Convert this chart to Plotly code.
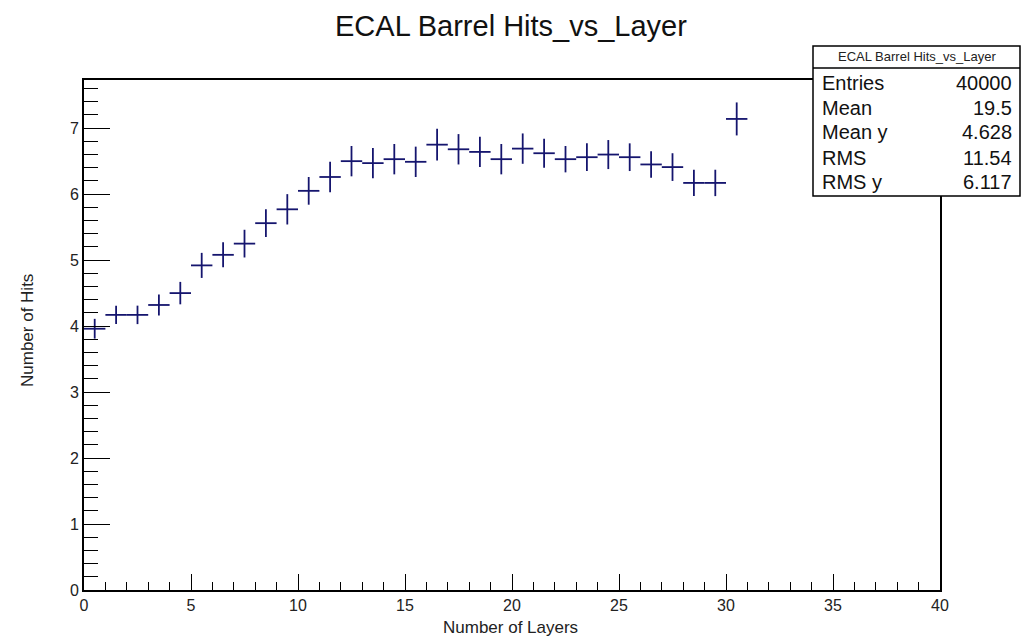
import plotly.graph_objects as go

# ---- data ----
layer = [0.5, 1.5, 2.5, 3.5, 4.5, 5.5, 6.5, 7.5, 8.5, 9.5, 10.5, 11.5, 12.5, 13.5, 14.5,
         15.5, 16.5, 17.5, 18.5, 19.5, 20.5, 21.5, 22.5, 23.5, 24.5, 25.5, 26.5, 27.5,
         28.5, 29.5, 30.5]
hits = [3.96, 4.17, 4.17, 4.32, 4.50, 4.92, 5.08, 5.25, 5.56, 5.77, 6.05, 6.26, 6.50,
        6.47, 6.53, 6.49, 6.75, 6.68, 6.64, 6.53, 6.69, 6.62, 6.53, 6.56, 6.60, 6.56,
        6.45, 6.41, 6.17, 6.17, 7.14]
hits_err = [0.15, 0.14, 0.14, 0.16, 0.17, 0.19, 0.19, 0.21, 0.21, 0.23, 0.21, 0.23, 0.23,
            0.23, 0.23, 0.23, 0.24, 0.23, 0.23, 0.23, 0.23, 0.22, 0.20, 0.21, 0.22, 0.21,
            0.20, 0.21, 0.20, 0.20, 0.25]
bin_half = [0.5] * len(layer)

title = "ECAL Barrel Hits_vs_Layer"
x_title = "Number of Layers"
y_title = "Number of Hits"
x_ticks = [0, 5, 10, 15, 20, 25, 30, 35, 40]
y_ticks = [0, 1, 2, 3, 4, 5, 6, 7]
stat_names = ["Entries", "Mean", "Mean y", "RMS", "RMS y"]
stat_values = ["40000", "19.5", "4.628", "11.54", "6.117"]

# ---- layout geometry (pixels) ----
W, H = 1023, 638
L, R, T, B = 84, 940, 80, 590
PW, PH = R - L, B - T

def px(xp):
    return (xp - L) / PW

def py(yp):
    return (B - yp) / PH

FONT = "Liberation Sans, Arial, Helvetica, sans-serif"
COL = "#15156e"

fig = go.Figure()
fig.add_trace(go.Scatter(
    x=layer, y=hits, mode="markers",
    marker=dict(size=1, color=COL, opacity=0),
    error_x=dict(type="data", array=bin_half, symmetric=True, width=0,
                 thickness=1.8, color=COL),
    error_y=dict(type="data", array=hits_err, symmetric=True, width=0,
                 thickness=1.8, color=COL),
    showlegend=False, hoverinfo="x+y",
))

fig.update_layout(
    width=W, height=H,
    margin=dict(l=L, r=W - R, t=T, b=H - B, pad=0),
    paper_bgcolor="white", plot_bgcolor="white",
    font=dict(family=FONT, color="#222222"),
    xaxis=dict(
        range=[0, 40], showgrid=False, zeroline=False,
        showline=True, linecolor="black", linewidth=2, mirror=True,
        ticks="inside", ticklen=16, tickwidth=1.2, tickcolor="black",
        tickmode="array", tickvals=x_ticks, ticktext=[str(v) for v in x_ticks],
        tickfont=dict(size=16, family=FONT, color="#222222"),
        minor=dict(ticks="inside", ticklen=8, tickwidth=1.2, tickcolor="black",
                   dtick=1, tick0=0, showgrid=False),
    ),
    yaxis=dict(
        range=[0, 7.73], showgrid=False, zeroline=False,
        showline=True, linecolor="black", linewidth=2, mirror=True,
        ticks="inside", ticklen=26, tickwidth=1.2, tickcolor="black",
        tickmode="array", tickvals=y_ticks, ticktext=[str(v) for v in y_ticks],
        tickfont=dict(size=16, family=FONT, color="#222222"),
        minor=dict(ticks="inside", ticklen=14, tickwidth=1.2, tickcolor="black",
                   dtick=0.2, tick0=0, showgrid=False),
    ),
)

annotations = [
    dict(text=title, x=px(511), y=py(26), xref="paper", yref="paper",
         xanchor="center", yanchor="middle", showarrow=False,
         font=dict(size=29, family=FONT, color="#111111")),
    dict(text=x_title, x=px(510), y=py(627), xref="paper", yref="paper",
         xanchor="center", yanchor="middle", showarrow=False,
         font=dict(size=17, family=FONT, color="#222222")),
    dict(text=y_title, x=px(27), y=py(331), xref="paper", yref="paper",
         xanchor="center", yanchor="middle", showarrow=False, textangle=-90,
         font=dict(size=17, family=FONT, color="#222222")),
]

# stats box
bx0, bx1, by0, by1, bsep = 813, 1020, 46, 196, 68
shapes = [
    dict(type="rect", xref="paper", yref="paper",
         x0=px(bx0), x1=px(bx1), y0=py(by1), y1=py(by0),
         line=dict(color="black", width=1.5), fillcolor="white", layer="above"),
    dict(type="line", xref="paper", yref="paper",
         x0=px(bx0), x1=px(bx1), y0=py(bsep), y1=py(bsep),
         line=dict(color="black", width=1.5), layer="above"),
]
annotations.append(dict(text=title, x=px((bx0 + bx1) / 2), y=py(57), xref="paper",
                        yref="paper", xanchor="center", yanchor="middle",
                        showarrow=False, font=dict(size=13, family=FONT, color="#222222")))
row_y = [83, 108, 132, 158, 182]
for name, val, ry in zip(stat_names, stat_values, row_y):
    annotations.append(dict(text=name, x=px(820), y=py(ry), xref="paper", yref="paper",
                            xanchor="left", yanchor="middle", showarrow=False,
                            font=dict(size=20, family=FONT, color="#111111")))
    annotations.append(dict(text=val, x=px(1014), y=py(ry), xref="paper", yref="paper",
                            xanchor="right", yanchor="middle", showarrow=False,
                            font=dict(size=20, family=FONT, color="#111111")))

fig.update_layout(annotations=annotations, shapes=shapes)
fig.write_html("out.html")
